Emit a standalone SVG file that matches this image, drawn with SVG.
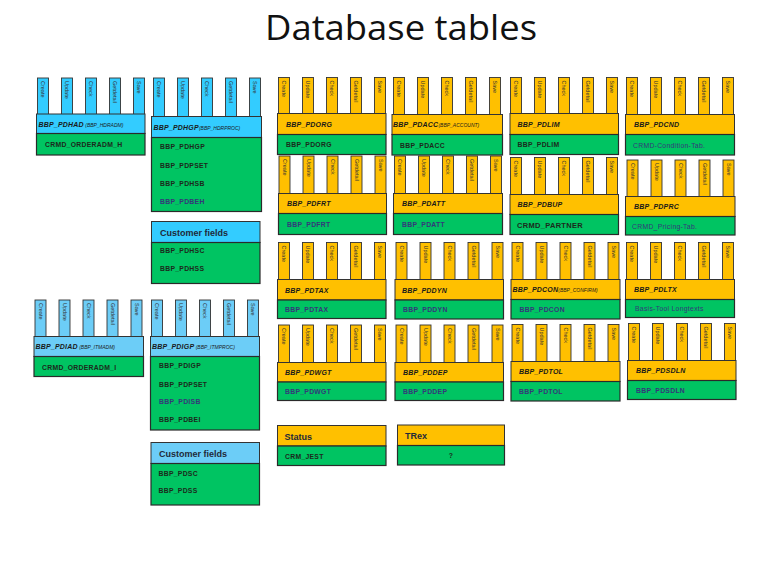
<svg xmlns="http://www.w3.org/2000/svg" xmlns:xlink="http://www.w3.org/1999/xlink" width="768" height="576" viewBox="0 0 768 576">
<style>
text{font-family:"Liberation Sans",Arial,sans-serif}
.title{font-family:"Open Sans","Liberation Sans",sans-serif;font-size:34px;fill:#111}
.tl{font-size:5.5px;fill:#333}
.tabs rect{stroke:#333;stroke-width:0.9}
.ty{fill:#FFC000}
.tb{fill:#33CCFF}
.tb2{fill:#6CCDF7}
.hy{fill:#FFC000;stroke:#333;stroke-width:1}
.hb{fill:#33CCFF;stroke:#333;stroke-width:1}
.hb2{fill:#6CCDF7;stroke:#333;stroke-width:1}
.bd{fill:#00C462;stroke:#2a2a2a;stroke-width:1.2}
.hl{font-size:7px;font-weight:bold;font-style:italic;fill:#1a1a1a;letter-spacing:0.2px}
.sub{font-size:5px;font-weight:normal;letter-spacing:0}
.gl{font-size:6.8px;font-weight:bold;fill:#1c2a1c;letter-spacing:0.3px}
.gp{fill:#34387a}
.gn{font-weight:normal;fill:#34387a}
.cf{font-size:9px;font-weight:bold;fill:#1f2a3a}
</style>
<defs>
<g id="tabs" class="tabs">
<rect x="1" y="0" width="11" height="40"/>
<rect x="25" y="0" width="11" height="40"/>
<rect x="49" y="0" width="11" height="40"/>
<rect x="73" y="0" width="11" height="40"/>
<rect x="97" y="0" width="11" height="40"/>
<text class="tl" transform="translate(6.5,3) rotate(90)" y="2">Create</text>
<text class="tl" transform="translate(30.5,3) rotate(90)" y="2">Update</text>
<text class="tl" transform="translate(54.5,3) rotate(90)" y="2">Check</text>
<text class="tl" transform="translate(78.5,3) rotate(90)" y="2">Getdetail</text>
<text class="tl" transform="translate(102.5,3) rotate(90)" y="2">Save</text>
</g>
</defs>
<rect width="768" height="576" fill="#fff"/>
<text class="title" x="401" y="39.5" text-anchor="middle" textLength="272" lengthAdjust="spacingAndGlyphs">Database tables</text>

<g id="connectors"/>

<!-- Blue blocks -->
<g id="pdhad">
<use xlink:href="#tabs" class="tb" x="36.5" y="78"/>
<rect class="hb" x="36.5" y="114" width="108.5" height="19.5"/>
<rect class="bd" x="36.5" y="133.5" width="108.5" height="21.5"/>
<text class="hl" x="38.5" y="126.5">BBP_PDHAD<tspan class="sub"> (BBP_HDRADM)</tspan></text>
<text class="gl" x="45" y="147">CRMD_ORDERADM_H</text>
</g>
<g id="pdhgp">
<use xlink:href="#tabs" class="tb" x="152.5" y="78"/>
<rect class="hb" x="151.5" y="116.5" width="110" height="21"/>
<rect class="bd" x="151.5" y="137.5" width="110" height="74"/>
<text class="hl" x="153.5" y="129.5">BBP_PDHGP<tspan class="sub">(BBP_HDRPROC)</tspan></text>
<text class="gl" x="160" y="149">BBP_PDHGP</text>
<text class="gl" x="160" y="167.5">BBP_PDPSET</text>
<text class="gl" x="160" y="185.5">BBP_PDHSB</text>
<text class="gl gp" x="160" y="203.5">BBP_PDBEH</text>
</g>
<g id="custfields1">
<rect class="hb" x="151.5" y="221.5" width="108.5" height="21"/>
<rect class="bd" x="151.5" y="242.5" width="108.5" height="41"/>
<text class="cf" x="160" y="235.5">Customer fields</text>
<text class="gl" x="160" y="252.5">BBP_PDHSC</text>
<text class="gl" x="160" y="270.5">BBP_PDHSS</text>
</g>
<g id="pdiad">
<use xlink:href="#tabs" class="tb2" x="34" y="300"/>
<rect class="hb2" x="34" y="336.5" width="109.5" height="20"/>
<rect class="bd" x="34" y="356.5" width="109.5" height="20"/>
<text class="hl" x="35.5" y="349">BBP_PDIAD<tspan class="sub"> (BBP_ITMADM)</tspan></text>
<text class="gl" x="42" y="369.5">CRMD_ORDERADM_I</text>
</g>
<g id="pdigp">
<use xlink:href="#tabs" class="tb2" x="150.5" y="300"/>
<rect class="hb2" x="150.5" y="336.5" width="109" height="20"/>
<rect class="bd" x="150.5" y="356.5" width="109" height="73.5"/>
<text class="hl" x="152" y="349">BBP_PDIGP<tspan class="sub"> (BBP_ITMPROC)</tspan></text>
<text class="gl" x="159" y="368">BBP_PDIGP</text>
<text class="gl" x="159" y="386.5">BBP_PDPSET</text>
<text class="gl gp" x="159" y="403.5">BBP_PDISB</text>
<text class="gl" x="159" y="421.5">BBP_PDBEI</text>
</g>
<g id="custfields2">
<rect class="hb2" x="151" y="442.5" width="108.5" height="21"/>
<rect class="bd" x="151" y="463.5" width="108.5" height="41.5"/>
<text class="cf" x="159" y="456.5">Customer fields</text>
<text class="gl" x="158.5" y="475.5">BBP_PDSC</text>
<text class="gl" x="158.5" y="493">BBP_PDSS</text>
</g>

<!-- Yellow row 1 -->
<g id="pdorg">
<use xlink:href="#tabs" class="ty" x="277.5" y="77.5"/>
<rect class="hy" x="277.5" y="113.5" width="108.5" height="21"/>
<rect class="bd" x="277.5" y="134.5" width="108.5" height="20"/>
<text class="hl" x="286" y="126.5">BBP_PDORG</text>
<text class="gl" x="286" y="147">BBP_PDORG</text>
</g>
<g id="pdacc">
<use xlink:href="#tabs" class="ty" x="392.5" y="77.5"/>
<rect class="hy" x="392" y="114.5" width="110.5" height="20"/>
<rect class="bd" x="392" y="134.5" width="110.5" height="20.5"/>
<text class="hl" x="393" y="127">BBP_PDACC<tspan class="sub">(BBP_ACCOUNT)</tspan></text>
<text class="gl" x="400" y="147.5">BBP_PDACC</text>
</g>
<g id="pdlim">
<use xlink:href="#tabs" class="ty" x="509.5" y="77.5"/>
<rect class="hy" x="510" y="113.5" width="108.5" height="21"/>
<rect class="bd" x="510" y="134.5" width="108.5" height="20"/>
<text class="hl" x="517.5" y="126.5">BBP_PDLIM</text>
<text class="gl" x="517.5" y="147">BBP_PDLIM</text>
</g>
<g id="pdcnd">
<use xlink:href="#tabs" class="ty" x="625.5" y="77.5"/>
<rect class="hy" x="625.5" y="114.5" width="109" height="20"/>
<rect class="bd" x="625.5" y="134.5" width="109" height="20.5"/>
<text class="hl" x="634" y="127">BBP_PDCND</text>
<text class="gl gn" x="633" y="147.5">CRMD-Condition-Tab.</text>
</g>

<!-- Yellow row 2 -->
<g id="pdfrt">
<use xlink:href="#tabs" class="ty" x="278" y="156"/>
<rect class="hy" x="278.5" y="193.5" width="108" height="20"/>
<rect class="bd" x="278.5" y="213.5" width="108" height="21"/>
<text class="hl" x="287" y="206">BBP_PDFRT</text>
<text class="gl gp" x="287" y="226.5">BBP_PDFRT</text>
</g>
<g id="pdatt">
<use xlink:href="#tabs" class="ty" x="393.5" y="156"/>
<rect class="hy" x="393.5" y="193.5" width="109" height="20"/>
<rect class="bd" x="393.5" y="213.5" width="109" height="21"/>
<text class="hl" x="402" y="206">BBP_PDATT</text>
<text class="gl gp" x="402" y="226.5">BBP_PDATT</text>
</g>
<g id="pdbup">
<use xlink:href="#tabs" class="ty" x="509.5" y="157.5"/>
<rect class="hy" x="510" y="194.5" width="108.5" height="20"/>
<rect class="bd" x="510" y="214.5" width="108.5" height="20"/>
<text class="hl" x="517.5" y="207">BBP_PDBUP</text>
<text class="gl" x="517" y="227.5" style="font-size:7.5px;font-weight:600">CRMD_PARTNER</text>
</g>
<g id="pdprc">
<use xlink:href="#tabs" class="ty" x="626" y="160"/>
<rect class="hy" x="625.5" y="196.5" width="109.5" height="20"/>
<rect class="bd" x="625.5" y="216.5" width="109.5" height="18.5"/>
<text class="hl" x="634" y="209">BBP_PDPRC</text>
<text class="gl gn" x="632" y="228.5">CRMD_Pricing-Tab.</text>
</g>

<!-- Yellow row 3 -->
<g id="pdtax">
<use xlink:href="#tabs" class="ty" x="277.5" y="242.5"/>
<rect class="hy" x="277.5" y="279.5" width="108.5" height="20.5"/>
<rect class="bd" x="277.5" y="300" width="108.5" height="18.5"/>
<text class="hl" x="285" y="292.5">BBP_PDTAX</text>
<text class="gl gp" x="285" y="311.5">BBP_PDTAX</text>
</g>
<g id="pddyn">
<use xlink:href="#tabs" class="ty" x="395" y="242.5"/>
<rect class="hy" x="395" y="279.5" width="108.5" height="20.5"/>
<rect class="bd" x="395" y="300" width="108.5" height="19"/>
<text class="hl" x="402" y="292.5">BBP_PDDYN</text>
<text class="gl gp" x="403" y="311.5">BBP_PDDYN</text>
</g>
<g id="pdcon">
<use xlink:href="#tabs" class="ty" x="511" y="242.5"/>
<rect class="hy" x="511" y="279.5" width="109" height="20"/>
<rect class="bd" x="511" y="299.5" width="109" height="19.5"/>
<text class="hl" x="512.5" y="292">BBP_PDCON<tspan class="sub">(BBP_CONFIRM)</tspan></text>
<text class="gl gp" x="519.5" y="311.5">BBP_PDCON</text>
</g>
<g id="pdltx">
<use xlink:href="#tabs" class="ty" x="625.5" y="242.5"/>
<rect class="hy" x="625.5" y="279.5" width="109" height="20"/>
<rect class="bd" x="625.5" y="299.5" width="109" height="18"/>
<text class="hl" x="634" y="292">BBP_PDLTX</text>
<text class="gl gn" x="635" y="310.5">Basis-Tool Longtexts</text>
</g>

<!-- Yellow row 4 -->
<g id="pdwgt">
<use xlink:href="#tabs" class="ty" x="277.5" y="325"/>
<rect class="hy" x="277.5" y="362.5" width="108.5" height="19.5"/>
<rect class="bd" x="277.5" y="382" width="108.5" height="18.5"/>
<text class="hl" x="285" y="374.5">BBP_PDWGT</text>
<text class="gl gp" x="285" y="393.5">BBP_PDWGT</text>
</g>
<g id="pddep">
<use xlink:href="#tabs" class="ty" x="395" y="325"/>
<rect class="hy" x="395" y="362.5" width="108.5" height="19.5"/>
<rect class="bd" x="395" y="382" width="108.5" height="18.5"/>
<text class="hl" x="403" y="374.5">BBP_PDDEP</text>
<text class="gl gp" x="403" y="393.5">BBP_PDDEP</text>
</g>
<g id="pdtol">
<use xlink:href="#tabs" class="ty" x="511" y="324.5"/>
<rect class="hy" x="511" y="361.5" width="109" height="20"/>
<rect class="bd" x="511" y="381.5" width="109" height="19.5"/>
<text class="hl" x="519" y="374">BBP_PDTOL</text>
<text class="gl gp" x="519" y="393.5">BBP_PDTOL</text>
</g>
<g id="pdsdln">
<use xlink:href="#tabs" class="ty" x="627.5" y="323.5"/>
<rect class="hy" x="627.5" y="360.5" width="108.5" height="20"/>
<rect class="bd" x="627.5" y="380.5" width="108.5" height="19"/>
<text class="hl" x="636" y="373">BBP_PDSDLN</text>
<text class="gl gp" x="636" y="392.5">BBP_PDSDLN</text>
</g>

<!-- Row 5 -->
<g id="status">
<rect class="hy" x="277.5" y="425.5" width="108.5" height="20.5"/>
<rect class="bd" x="277.5" y="446" width="108.5" height="19.5"/>
<text class="cf" x="284.5" y="439.5">Status</text>
<text class="gl" x="285" y="458.5">CRM_JEST</text>
</g>
<g id="trex">
<rect class="hy" x="397.5" y="425" width="107" height="20.5"/>
<rect class="bd" x="397.5" y="445.5" width="107" height="19.5"/>
<text class="cf" x="405" y="438.5">TRex</text>
<text class="gl" x="451" y="458" text-anchor="middle">?</text>
</g>
</svg>
